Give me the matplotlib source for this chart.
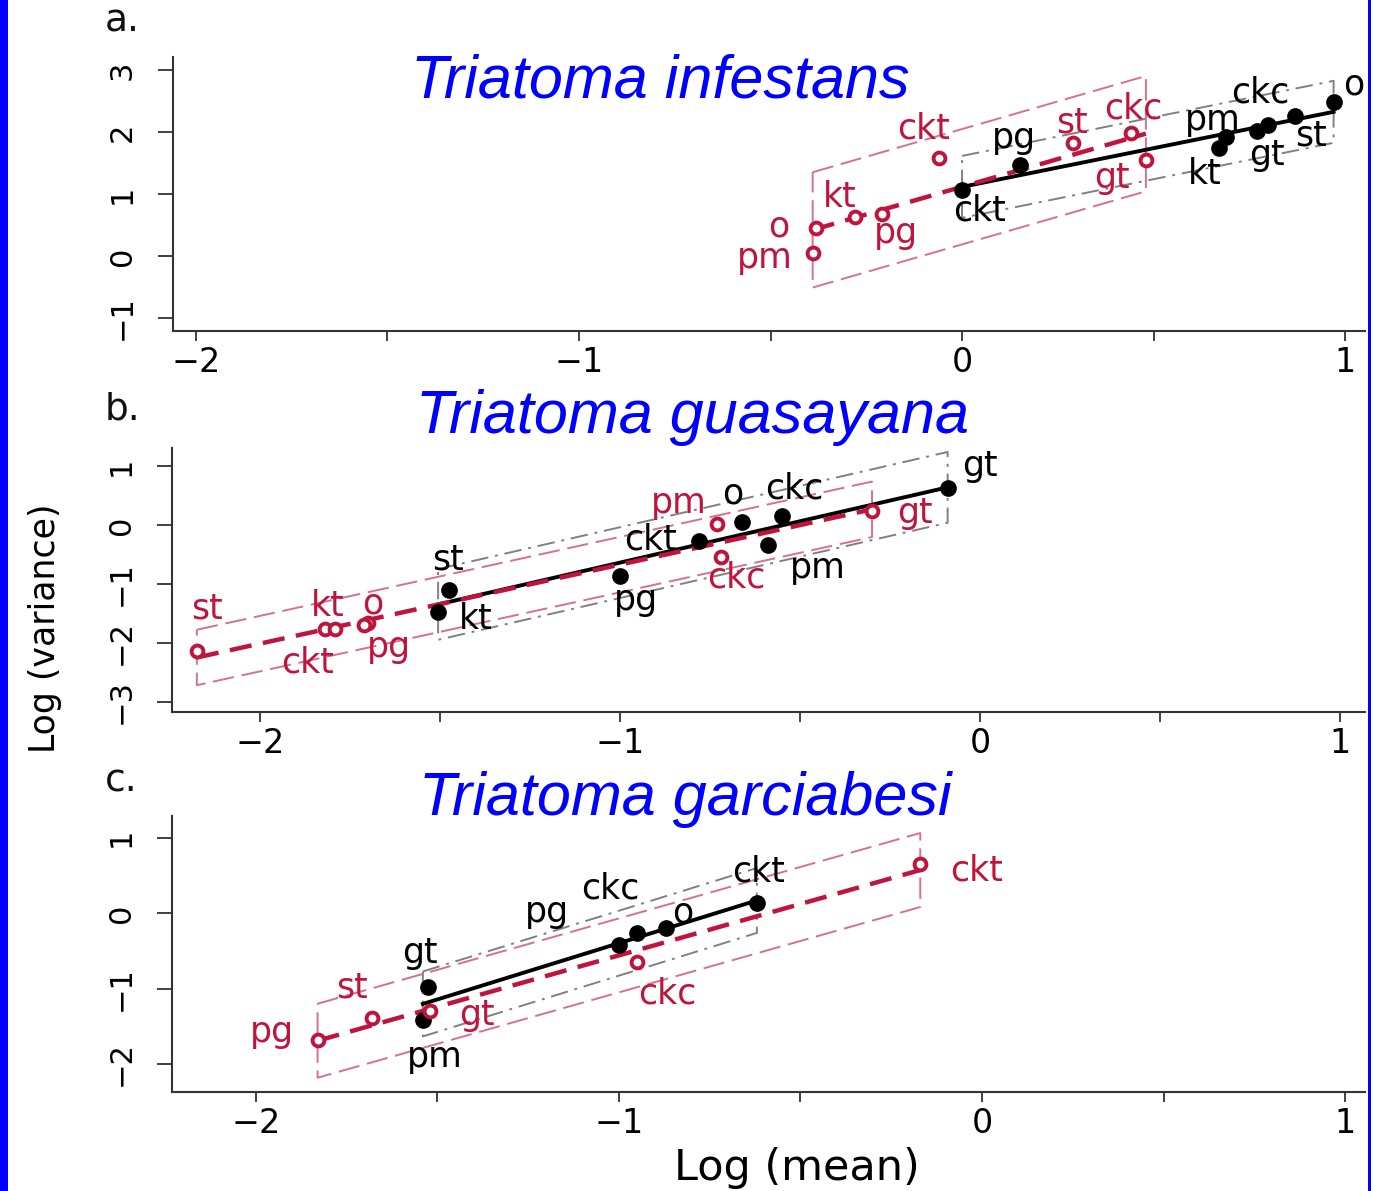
import numpy as np
import matplotlib.pyplot as plt
from matplotlib.patches import Rectangle

RED = '#c0143c'
RED_THIN = '#d77090'
GREY = '#808080'
BLUE = '#0000ff'

# ---- panel a: Triatoma infestans
a_black_lab = ['ckt', 'pg', 'kt', 'pm', 'gt', 'ckc', 'st', 'o']
a_black_x = [0.00, 0.15, 0.67, 0.69, 0.77, 0.80, 0.87, 0.97]
a_black_y = [1.06, 1.47, 1.74, 1.92, 2.02, 2.11, 2.26, 2.48]
a_red_lab = ['pm', 'o', 'kt', 'pg', 'ckt', 'st', 'ckc', 'gt']
a_red_x = [-0.39, -0.38, -0.28, -0.21, -0.06, 0.29, 0.44, 0.48]
a_red_y = [0.05, 0.45, 0.63, 0.68, 1.58, 1.82, 1.98, 1.55]
a_band = (0.50, 0.93)   # half width of black / red envelope

# ---- panel b: Triatoma guasayana
b_black_lab = ['st', 'kt', 'pg', 'ckt', 'o', 'pm', 'ckc', 'gt']
b_black_x = [-1.475, -1.505, -1.00, -0.78, -0.66, -0.59, -0.55, -0.09]
b_black_y = [-1.10, -1.47, -0.86, -0.27, 0.05, -0.34, 0.15, 0.63]
b_red_lab = ['st', 'kt', 'ckt', 'o', 'pg', 'pm', 'ckc', 'gt']
b_red_x = [-2.175, -1.82, -1.79, -1.70, -1.71, -0.73, -0.72, -0.30]
b_red_y = [-2.14, -1.77, -1.77, -1.66, -1.70, 0.02, -0.54, 0.24]
b_band = (0.60, 0.47)

# ---- panel c: Triatoma garciabesi
c_black_lab = ['gt', 'pm', 'pg', 'ckc', 'o', 'ckt']
c_black_x = [-1.526, -1.54, -1.00, -0.95, -0.87, -0.62]
c_black_y = [-0.98, -1.42, -0.42, -0.26, -0.20, 0.13]
c_red_lab = ['pg', 'st', 'gt', 'ckc', 'ckt']
c_red_x = [-1.83, -1.68, -1.52, -0.95, -0.17]
c_red_y = [-1.68, -1.39, -1.30, -0.65, 0.65]
c_band = (0.43, 0.49)

# label offsets from the point, in pixels (x right, y up)
a_black_off = [(18, -20), (-6, 27), (-14, -26), (-14, 17), (10, -24), (-8, 33), (16, -20), (20, 18)]
a_red_off = [(-48, -5), (-38, 2), (-15, 20), (14, -19), (-16, 30), (-1, 21), (3, 25), (-34, -18)]
b_black_off = [(-1, 30), (38, -7), (16, -24), (-49, 1), (-10, 29), (50, -23), (12, 28), (32, 22)]
b_red_off = [(10, 43), (3, 23), (-28, -33), (5, 19), (25, -22), (-38, 21), (16, -21), (43, -2)]
c_black_off = [(-8, 34), (12, -37), (-72, 33), (-27, 44), (17, 16), (2, 32)]
c_red_off = [(-46, 8), (-20, 30), (47, -4), (30, -31), (56, -7)]

W, H = 1373, 1191


def envelope(ax, x, y, half, color, dashes, zorder):
    k, b = np.polyfit(x, y, 1)
    x0, x1 = min(x), max(x)
    px = [x0, x1, x1, x0, x0]
    py = [k*x0 + b + half, k*x1 + b + half, k*x1 + b - half, k*x0 + b - half, k*x0 + b + half]
    ax.plot(px, py, color=color, lw=1.4, dashes=dashes, zorder=zorder)
    return k, b


def group(ax, x, y, labels, offs, half, red):
    if red:
        k, b = envelope(ax, x, y, half, RED_THIN, (11, 4), 1)
        x0, x1 = min(x), max(x)
        ax.plot([x0, x1], [k*x0 + b, k*x1 + b], color=RED, lw=3.2, dashes=(5, 2.6), zorder=4)
        ax.plot(x, y, 'o', ms=8.5, mfc='white', mec=RED, mew=2.8, zorder=6)
        col = RED
    else:
        k, b = envelope(ax, x, y, half, GREY, (9, 3.5, 1.5, 3.5), 1)
        x0, x1 = min(x), max(x)
        ax.plot([x0, x1], [k*x0 + b, k*x1 + b], color='black', lw=2.8, zorder=3)
        ax.plot(x, y, 'o', ms=11, color='black', zorder=5)
        col = 'black'
    for xi, yi, lab, (dx, dy) in zip(x, y, labels, offs):
        ax.annotate(lab, (xi, yi), xytext=(dx*0.72, dy*0.72), textcoords='offset points',
                    ha='center', va='center', fontsize=25, color=col, zorder=7)


def style_axis(ax, xlim, ylim, yticks):
    ax.set_xlim(*xlim)
    ax.set_ylim(*ylim)
    for s in ['top', 'right']:
        ax.spines[s].set_visible(False)
    for s in ['left', 'bottom']:
        ax.spines[s].set_linewidth(1.5)
        ax.spines[s].set_color('#333333')
    xt = np.arange(-2, 1.01, 0.5)
    ax.set_xticks(xt)
    ax.set_xticklabels([f"{int(v)}".replace('-', '\u2212') if v == int(v) else '' for v in xt])
    ax.set_yticks(yticks)
    ax.set_yticklabels([f"{v}".replace('-', '\u2212') for v in yticks])
    ax.tick_params(axis='x', length=7, width=1.3, color='#333333', labelsize=24, pad=4)
    ax.tick_params(axis='y', length=11, width=1.3, color='#333333', labelsize=22, pad=15,
                   labelrotation=90)
    for t in ax.get_yticklabels():
        t.set_va('center')


fig = plt.figure(figsize=(W/100, H/100), dpi=100)
plt.rcParams['font.family'] = ['DejaVu Sans']

panels = [
    ([173/W, 1-331/H, 1192/W, 274/H], (-2.06, 1.052), (-1.21, 3.21), [-1, 0, 1, 2, 3],
     (a_black_x, a_black_y, a_black_lab, a_black_off), (a_red_x, a_red_y, a_red_lab, a_red_off), a_band),
    ([172/W, 1-712/H, 1193/W, 264/H], (-2.244, 1.069), (-3.17, 1.305), [-3, -2, -1, 0, 1],
     (b_black_x, b_black_y, b_black_lab, b_black_off), (b_red_x, b_red_y, b_red_lab, b_red_off), b_band),
    ([172/W, 1-1092/H, 1193/W, 276/H], (-2.231, 1.055), (-2.37, 1.285), [-2, -1, 0, 1],
     (c_black_x, c_black_y, c_black_lab, c_black_off), (c_red_x, c_red_y, c_red_lab, c_red_off), c_band),
]

for rect, xl, yl, yt, blk, red, band in panels:
    ax = fig.add_axes(rect)
    style_axis(ax, xl, yl, yt)
    group(ax, *blk, band[0], red=False)
    group(ax, *red, band[1], red=True)

# species titles and panel letters
titles = ['Triatoma infestans', 'Triatoma guasayana', 'Triatoma garciabesi']
title_pos = [(660, 82), (693, 418), (685, 800)]
for t, (x, y) in zip(titles, title_pos):
    fig.text(x/W, 1-y/H, t, ha='center', va='center', fontsize=44, style='italic',
             color=BLUE, family='Liberation Sans')
for t, y in zip(['a.', 'b.', 'c.'], [22, 410, 782]):
    fig.text(105/W, 1-y/H, t, ha='left', va='center', fontsize=27, color='#111111')

fig.text(797/W, 1-1168/H, 'Log (mean)', ha='center', va='center', fontsize=31)
fig.text(45/W, 1-628/H, 'Log (variance)', ha='center', va='center', fontsize=25, rotation=90)

# blue frame bits
fig.add_artist(Rectangle((0, 0), 8/W, 1, transform=fig.transFigure, color=BLUE, lw=0))
fig.add_artist(Rectangle((1368/W, 0), 3/W, 1, transform=fig.transFigure, color=BLUE, lw=0))

fig.savefig('out.png', dpi=100)
